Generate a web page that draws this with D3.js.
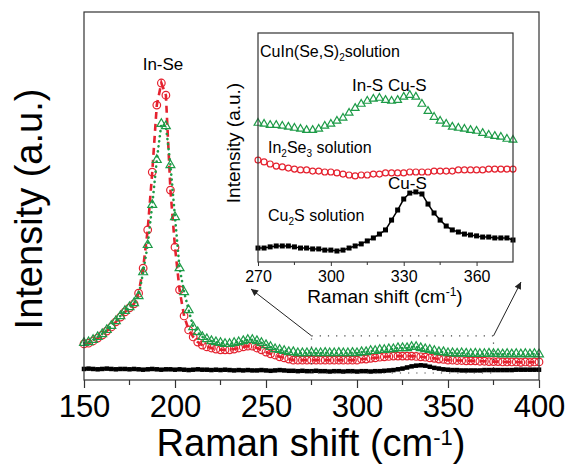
<!DOCTYPE html>
<html>
<head>
<meta charset="utf-8">
<script src="https://cdn.jsdelivr.net/npm/d3@7"></script>
<style>
  body { margin: 0; background: #fff; }
  svg { font-family: "Liberation Sans", Arial, sans-serif; }
</style>
</head>
<body>
<div id="chart"></div>
<script>
// main spectra, one reading every 2.5 cm-1 from 150 to 400
const ramanShift = d3.range(150, 400.01, 2.5);

const cisSolution = [
  10.1, 10.3, 10.9, 11.7, 12.5, 13.6, 14.7, 16.0, 17.4, 18.8,
  19.8, 20.9, 22.8, 29.3, 36.7, 47.6, 59.8, 69.6, 69.0, 58.4,
  44.3, 30.4, 23.9, 19.0, 14.4, 13.0, 11.7, 11.1, 10.6, 10.3,
  10.1, 9.8, 9.8, 10.1, 10.3, 10.6, 10.9, 10.9, 10.6, 10.1,
  9.5, 9.0, 8.4, 8.2, 7.9, 7.6, 7.6, 7.3, 7.3, 7.3,
  7.4, 7.3, 7.3, 7.4, 7.3, 7.3, 7.4, 7.3, 7.3, 7.4,
  7.3, 7.6, 7.6, 7.9, 7.9, 8.2, 8.2, 8.4, 8.4, 8.7,
  8.7, 8.7, 9.0, 9.0, 8.7, 8.4, 8.2, 7.9, 7.6, 7.6,
  7.3, 7.3, 7.2, 7.3, 7.2, 7.1, 7.2, 7.1, 7.1, 7.2,
  7.1, 7.1, 7.0, 7.1, 7.0, 7.1, 7.0, 7.1, 7.0, 7.1,
  7.0
];

const in2se3Solution = [
  9.8, 10.0, 10.6, 11.4, 12.2, 13.3, 14.4, 15.8, 17.1, 18.5,
  19.6, 20.7, 23.6, 30.4, 40.8, 56.5, 74.7, 80.7, 77.4, 51.6,
  36.1, 24.5, 17.4, 13.6, 11.7, 10.3, 9.5, 9.0, 8.7, 8.4,
  8.2, 8.2, 8.2, 8.4, 8.7, 9.0, 9.2, 9.2, 8.7, 8.2,
  7.6, 7.1, 6.8, 6.3, 6.0, 5.7, 5.4, 5.4, 5.4, 5.4,
  5.4, 5.4, 5.4, 5.4, 5.4, 5.4, 5.4, 5.4, 5.4, 5.4,
  5.4, 5.7, 5.7, 5.9, 6.0, 6.2, 6.3, 6.4, 6.5, 6.5,
  6.5, 6.5, 6.5, 6.4, 6.3, 6.2, 6.0, 5.9, 5.7, 5.6,
  5.4, 5.4, 5.3, 5.3, 5.2, 5.2, 5.2, 5.1, 5.1, 5.0,
  5.0, 5.0, 4.9, 4.9, 4.9, 4.9, 4.8, 4.9, 4.8, 4.9,
  4.9
];

const cu2sSolution = [
  3.0, 3.1, 3.0, 2.9, 3.0, 3.1, 3.0, 2.9, 3.0, 3.0,
  2.9, 3.0, 2.9, 2.8, 2.9, 3.0, 2.9, 2.8, 2.9, 2.9,
  2.8, 2.9, 2.8, 2.7, 2.8, 2.9, 2.8, 2.8, 2.7, 2.8,
  2.7, 2.8, 2.7, 2.6, 2.7, 2.6, 2.7, 2.6, 2.6, 2.7,
  2.6, 2.5, 2.6, 2.7, 2.6, 2.5, 2.5, 2.4, 2.5, 2.4,
  2.4, 2.5, 2.4, 2.4, 2.3, 2.4, 2.4, 2.3, 2.4, 2.4,
  2.3, 2.4, 2.4, 2.3, 2.4, 2.4, 2.5, 2.6, 2.7, 2.9,
  3.1, 3.4, 3.7, 3.9, 4.0, 3.9, 3.6, 3.3, 3.1, 2.9,
  2.8, 2.7, 2.7, 2.6, 2.6, 2.6, 2.6, 2.6, 2.7, 2.7,
  2.7, 2.7, 2.7, 2.7, 2.7, 2.8, 2.8, 2.8, 2.8, 2.8,
  2.8
];

// inset spectra, 270 - 375 cm-1
const insetShift = d3.range(270, 375.01, 2.5);

const insetCis = [
  60.7, 60.3, 59.8, 59.8, 59.4, 59.0, 58.5, 58.1, 57.6, 57.6,
  58.1, 59.4, 60.3, 61.6, 62.9, 65.1, 67.2, 69.0, 70.3, 71.2,
  71.6, 70.7, 70.3, 70.7, 72.1, 72.9, 72.1, 69.0, 65.9, 63.3,
  61.6, 60.3, 59.0, 58.5, 58.1, 57.6, 57.2, 56.3, 55.5, 55.0,
  54.6, 53.7, 53.3
];

const insetIn2se3 = [
  44.5, 43.7, 42.8, 41.9, 41.5, 41.0, 40.6, 40.2, 40.2, 39.7,
  39.7, 39.3, 39.3, 38.9, 38.4, 38.0, 37.6, 38.0, 38.0, 38.4,
  38.4, 38.9, 38.9, 38.9, 38.9, 39.3, 39.3, 39.3, 39.3, 39.7,
  39.7, 39.7, 39.7, 40.2, 40.2, 40.2, 40.2, 40.2, 40.6, 40.6,
  40.6, 40.6, 40.6
];

const insetCu2s = [
  6.1, 6.1, 6.6, 7.0, 7.0, 7.0, 6.6, 6.1, 6.1, 5.7,
  5.7, 5.2, 5.2, 4.8, 5.2, 6.1, 7.0, 7.9, 9.2, 10.5,
  12.2, 14.0, 18.3, 22.7, 27.5, 30.1, 30.6, 29.7, 25.3, 21.4,
  18.3, 15.7, 14.0, 13.1, 12.2, 11.8, 11.4, 10.9, 10.9, 10.5,
  10.5, 10.5, 9.6
];

const xTicks = [150, 200, 250, 300, 350, 400];
const xMinorTicks = [175, 225, 275, 325, 375];
const insetTicks = [270, 300, 330, 360];
const insetMinorTicks = [285, 315, 345];

// region magnified in the inset
const zoomShift = [275, 375];
const zoomIntensity = [1.9, 12.0];

const green = "#1d9b47";
const red = "#e5222f";

const width = 567, height = 465;

const svg = d3.select("#chart").append("svg")
    .attr("width", width)
    .attr("height", height);

const defs = svg.append("defs");
defs.append("marker")
    .attr("id", "arrow")
    .attr("viewBox", "0 0 10 10")
    .attr("refX", 10).attr("refY", 5)
    .attr("markerWidth", 9).attr("markerHeight", 7)
    .attr("markerUnits", "userSpaceOnUse")
    .attr("orient", "auto")
    .append("path")
    .attr("d", "M0,0 L10,5 L0,10 z")
    .attr("fill", "#222");

// ---------- main plot ----------
const x = d3.scaleLinear().domain([150, 400]).range([84, 539]);
const y = d3.scaleLinear().domain([0, 100]).range([380, 12]);

function series(xs, ys) {
  return xs.map((d, i) => ({ x: d, y: ys[i] }));
}

function drawSeries(g, data, xs, ys, opt) {
  const line = d3.line().x(d => xs(d.x)).y(d => ys(d.y));
  if (opt.line) {
    g.append("path")
      .datum(data)
      .attr("d", line)
      .attr("fill", "none")
      .attr("stroke", opt.color)
      .attr("stroke-width", opt.line.width)
      .attr("stroke-dasharray", opt.line.dash || null)
      .attr("stroke-linecap", opt.line.cap || "butt");
  }
  if (opt.shape === "square") {
    g.selectAll(null).data(data).enter().append("rect")
      .attr("x", d => xs(d.x) - opt.size / 2)
      .attr("y", d => ys(d.y) - opt.size / 2)
      .attr("width", opt.size).attr("height", opt.size)
      .attr("fill", opt.color);
  } else if (opt.shape === "circle") {
    g.selectAll(null).data(data).enter().append("circle")
      .attr("cx", d => xs(d.x))
      .attr("cy", d => ys(d.y))
      .attr("r", opt.size)
      .attr("fill", "none")
      .attr("stroke", opt.color)
      .attr("stroke-width", 1.2);
  } else if (opt.shape === "triangle") {
    const sym = d3.symbol().type(d3.symbolTriangle).size(opt.size);
    g.selectAll(null).data(data).enter().append("path")
      .attr("d", sym)
      .attr("transform", d => "translate(" + xs(d.x) + "," + ys(d.y) + ")")
      .attr("fill", "none")
      .attr("stroke", opt.color)
      .attr("stroke-width", 1.2);
  }
}

const main = svg.append("g");

drawSeries(main, series(ramanShift, cu2sSolution), x, y,
  { color: "#000", shape: "square", size: 4.5, line: { width: 3 } });
drawSeries(main, series(ramanShift, in2se3Solution), x, y,
  { color: red, shape: "circle", size: 3.8, line: { width: 2.6, dash: "7,5" } });
drawSeries(main, series(ramanShift, cisSolution), x, y,
  { color: green, shape: "triangle", size: 34, line: { width: 2.6, dash: "0.1,5", cap: "round" } });

// frame
main.append("rect")
    .attr("x", x(150)).attr("y", y(100))
    .attr("width", x(400) - x(150)).attr("height", y(0) - y(100))
    .attr("fill", "none").attr("stroke", "#333").attr("stroke-width", 1.2);

const xAxis = main.append("g")
    .attr("transform", "translate(0," + y(0) + ")")
    .call(d3.axisBottom(x).tickValues(xTicks).tickSize(8).tickSizeOuter(0));
xAxis.select(".domain").remove();
xAxis.selectAll("line").attr("stroke", "#333").attr("stroke-width", 1.2);
xAxis.selectAll("text")
    .attr("y", 37).attr("dy", 0)
    .attr("fill", "#000")
    .style("font-size", "31px")
    .style("font-family", "Liberation Sans, Arial, sans-serif");

main.append("g").selectAll("line").data(xMinorTicks).enter().append("line")
    .attr("x1", d => x(d)).attr("x2", d => x(d))
    .attr("y1", y(0)).attr("y2", y(0) + 5)
    .attr("stroke", "#333").attr("stroke-width", 1.2);

const xtitle = svg.append("text")
    .attr("x", 311).attr("y", 456)
    .attr("text-anchor", "middle")
    .style("font-size", "38px");
xtitle.append("tspan").text("Raman shift (cm");
xtitle.append("tspan").attr("dy", -11).style("font-size", "22px").text("-1");
xtitle.append("tspan").attr("dy", 11).text(")");

svg.append("text")
    .attr("transform", "translate(42,209) rotate(-90)")
    .attr("text-anchor", "middle")
    .style("font-size", "38px")
    .text("Intensity (a.u.)");

svg.append("text")
    .attr("x", 163).attr("y", 70)
    .attr("text-anchor", "middle")
    .style("font-size", "17px")
    .text("In-Se");

// dotted box around the magnified region + arrows
const ix = d3.scaleLinear().domain([270, 375]).range([258, 513]);
const iy = d3.scaleLinear().domain([0, 100]).range([262, 33]);

svg.append("rect")
    .attr("x", x(zoomShift[0])).attr("y", y(zoomIntensity[1]))
    .attr("width", x(zoomShift[1]) - x(zoomShift[0]))
    .attr("height", y(zoomIntensity[0]) - y(zoomIntensity[1]))
    .attr("fill", "none").attr("stroke", "#444")
    .attr("stroke-width", 1.2).attr("stroke-dasharray", "1.2,7");

svg.append("line")
    .attr("x1", x(zoomShift[0])).attr("y1", y(zoomIntensity[1]))
    .attr("x2", ix(270) - 7).attr("y2", iy(0) + 27)
    .attr("stroke", "#222").attr("stroke-width", 1)
    .attr("marker-end", "url(#arrow)");
svg.append("line")
    .attr("x1", x(zoomShift[1])).attr("y1", y(zoomIntensity[1]))
    .attr("x2", ix(375) + 8).attr("y2", iy(0) + 20)
    .attr("stroke", "#222").attr("stroke-width", 1)
    .attr("marker-end", "url(#arrow)");

// ---------- inset ----------
const inset = svg.append("g");

inset.append("rect")
    .attr("x", ix(270)).attr("y", iy(100))
    .attr("width", ix(375) - ix(270)).attr("height", iy(0) - iy(100))
    .attr("fill", "#fff");

drawSeries(inset, series(insetShift, insetCu2s), ix, iy,
  { color: "#000", shape: "square", size: 5, line: { width: 1.5 } });
drawSeries(inset, series(insetShift, insetIn2se3), ix, iy,
  { color: red, shape: "circle", size: 3 });
drawSeries(inset, series(insetShift, insetCis), ix, iy,
  { color: green, shape: "triangle", size: 26 });

inset.append("rect")
    .attr("x", ix(270)).attr("y", iy(100))
    .attr("width", ix(375) - ix(270)).attr("height", iy(0) - iy(100))
    .attr("fill", "none").attr("stroke", "#333").attr("stroke-width", 1.2);

const ixAxis = inset.append("g")
    .attr("transform", "translate(0," + iy(0) + ")")
    .call(d3.axisBottom(ix).tickValues(insetTicks).tickSize(4).tickSizeOuter(0));
ixAxis.select(".domain").remove();
ixAxis.selectAll("line").attr("stroke", "#333");
ixAxis.selectAll("text")
    .attr("y", 20).attr("dy", 0)
    .attr("fill", "#000")
    .style("font-size", "16px")
    .style("font-family", "Liberation Sans, Arial, sans-serif");

inset.append("g").selectAll("line").data(insetMinorTicks).enter().append("line")
    .attr("x1", d => ix(d)).attr("x2", d => ix(d))
    .attr("y1", iy(0)).attr("y2", iy(0) + 3)
    .attr("stroke", "#333");

const ixtitle = inset.append("text")
    .attr("x", 385).attr("y", 303)
    .attr("text-anchor", "middle")
    .style("font-size", "19px");
ixtitle.append("tspan").text("Raman shift (cm");
ixtitle.append("tspan").attr("dy", -7).style("font-size", "12px").text("-1");
ixtitle.append("tspan").attr("dy", 7).text(")");

inset.append("text")
    .attr("transform", "translate(240,143) rotate(-90)")
    .attr("text-anchor", "middle")
    .style("font-size", "19px")
    .text("Intensity (a.u.)");

// inset labels, text with subscripts
function label(g, px, py, size, parts) {
  const t = g.append("text").attr("x", px).attr("y", py).style("font-size", size + "px");
  let shift = 0;
  parts.forEach(p => {
    const sub = Array.isArray(p);
    const dy = sub ? 4 - shift : -shift;
    shift = sub ? 4 : 0;
    t.append("tspan")
      .attr("dy", dy)
      .style("font-size", sub ? "10px" : null)
      .text(sub ? p[0] : p);
  });
}

label(inset, 260, 57, 16, ["CuIn(Se,S)", ["2"], "solution"]);
label(inset, 352, 91, 17, ["In-S  Cu-S"]);
label(inset, 268, 153, 16, ["In", ["2"], "Se", ["3"], " solution"]);
label(inset, 388, 189, 17, ["Cu-S"]);
label(inset, 268, 221, 16, ["Cu", ["2"], "S solution"]);
</script>
</body>
</html>
